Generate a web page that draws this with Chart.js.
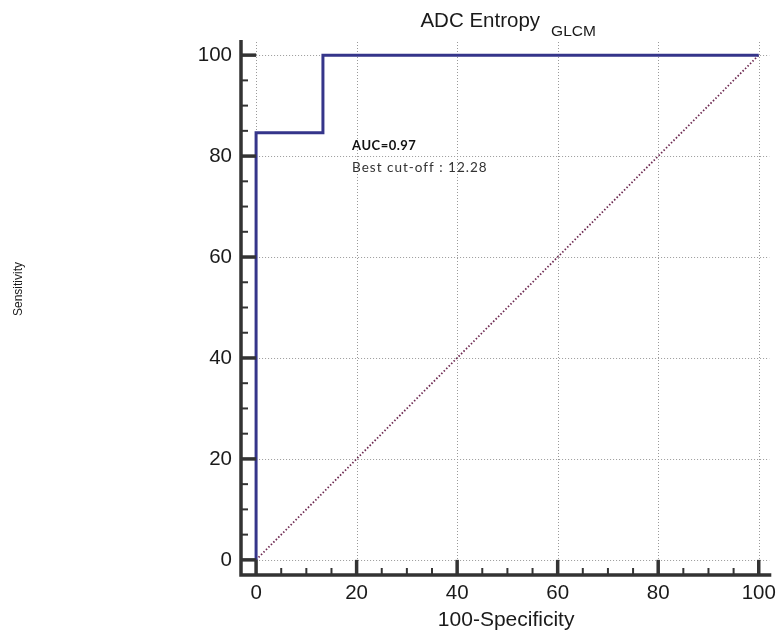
<!DOCTYPE html>
<html lang="en">
<head>
    <meta charset="utf-8" />
    <title>ADC Entropy GLCM ROC</title>
    <script src="https://cdn.jsdelivr.net/npm/chart.js"></script>
    <style>
        body { margin: 0; background: #fff; }
        #wrap { width: 782px; height: 640px; position: relative; }
    </style>
</head>
<body>
    <div id="wrap"><canvas id="rocChart"></canvas></div>

    <script>
        // ROC curve points (100-specificity, sensitivity)
        const rocX = [0, 0, 13.3, 13.3, 100];
        const rocY = [0, 84.6, 84.6, 100, 100];
        // reference diagonal
        const diagX = [0, 100];
        const diagY = [0, 100];

        const xTicks = [0, 20, 40, 60, 80, 100];
        const yTicks = [0, 20, 40, 60, 80, 100];
        const minorStep = 5;

        const titleMain = 'ADC Entropy';
        const titleSub = 'GLCM';
        const xTitle = '100-Specificity';
        const yTitle = 'Sensitivity';
        const aucText = 'AUC=0.97';
        const cutoffText = 'Best cut-off : 12.28';

        const axisColor = '#333333';
        const textColor = '#1a1a1a';
        const font = 'Arial, "Liberation Sans", sans-serif';

        const toPoints = (xs, ys) => xs.map((x, i) => ({ x, y: ys[i] }));

        // grid lines, axis lines, inward ticks, titles and annotation
        const rocDecor = {
            id: 'rocDecor',
            beforeDatasetsDraw(chart) {
                const { ctx, chartArea } = chart;
                const xs = chart.scales.x, ys = chart.scales.y;
                ctx.save();
                ctx.strokeStyle = '#9a9a9a';
                ctx.lineWidth = 1;
                ctx.setLineDash([1, 2]);
                xTicks.forEach(v => {
                    const px = Math.round(xs.getPixelForValue(v)) + 0.5;
                    ctx.beginPath();
                    ctx.moveTo(px, chartArea.top + 2);
                    ctx.lineTo(px, ys.getPixelForValue(0));
                    ctx.stroke();
                });
                yTicks.forEach(v => {
                    const py = Math.round(ys.getPixelForValue(v)) + 0.5;
                    ctx.beginPath();
                    ctx.moveTo(xs.getPixelForValue(0), py);
                    ctx.lineTo(chartArea.right - 2, py);
                    ctx.stroke();
                });
                ctx.restore();
            },
            afterDatasetsDraw(chart) {
                const { ctx, chartArea } = chart;
                const xs = chart.scales.x, ys = chart.scales.y;
                const left = chartArea.left, bottom = chartArea.bottom;
                ctx.save();
                ctx.strokeStyle = axisColor;
                ctx.lineCap = 'butt';

                // axis lines
                ctx.lineWidth = 3.5;
                ctx.beginPath();
                ctx.moveTo(left, chartArea.top);
                ctx.lineTo(left, bottom);
                ctx.lineTo(chartArea.right, bottom);
                ctx.stroke();

                // ticks point inward
                for (let v = 0; v <= 100; v += minorStep) {
                    const major = v % 20 === 0;
                    ctx.lineWidth = major ? 3.5 : 2;
                    const py = ys.getPixelForValue(v);
                    ctx.beginPath();
                    ctx.moveTo(left, py);
                    ctx.lineTo(major ? xs.getPixelForValue(0) : left + 7, py);
                    ctx.stroke();
                    const px = xs.getPixelForValue(v);
                    ctx.beginPath();
                    ctx.moveTo(px, bottom);
                    ctx.lineTo(px, major ? ys.getPixelForValue(0) : bottom - 7);
                    ctx.stroke();
                }

                // title with subscript
                ctx.fillStyle = textColor;
                ctx.textBaseline = 'alphabetic';
                ctx.textAlign = 'left';
                ctx.font = '20.5px ' + font;
                const w1 = ctx.measureText(titleMain).width;
                ctx.font = '15.5px ' + font;
                const w2 = ctx.measureText(titleSub).width;
                const gap = 11;
                const cx = (chartArea.left + chartArea.right) / 2 + 2;
                const start = cx - (w1 + gap + w2) / 2;
                ctx.font = '20.5px ' + font;
                ctx.fillText(titleMain, start, 26.5);
                ctx.font = '15.5px ' + font;
                ctx.fillText(titleSub, start + w1 + gap, 35.5);

                // y axis title
                ctx.save();
                ctx.translate(22, 289);
                ctx.rotate(-Math.PI / 2);
                ctx.textAlign = 'center';
                ctx.textBaseline = 'alphabetic';
                ctx.font = '12px ' + font;
                ctx.fillText(yTitle, 0, 0);
                ctx.restore();

                // AUC annotation
                const ax = xs.getPixelForValue(19.1);
                ctx.font = 'bold 13px Lato, "Open Sans", sans-serif';
                ctx.letterSpacing = '0.5px';
                ctx.fillStyle = '#111';
                ctx.fillText(aucText, ax, ys.getPixelForValue(81.2));
                ctx.font = '13.5px Lato, "Open Sans", sans-serif';
                ctx.letterSpacing = '1px';
                ctx.fillStyle = '#333';
                ctx.fillText(cutoffText, ax, ys.getPixelForValue(76.8));
                ctx.letterSpacing = '0px';
                ctx.restore();
            }
        };

        const ctx = document.getElementById('rocChart').getContext('2d');
        new Chart(ctx, {
            type: 'scatter',
            data: {
                datasets: [
                    {
                        label: 'ROC',
                        data: toPoints(rocX, rocY),
                        showLine: true,
                        borderColor: '#35358a',
                        borderWidth: 3,
                        pointRadius: 0,
                        tension: 0
                    },
                    {
                        label: 'Reference',
                        data: toPoints(diagX, diagY),
                        showLine: true,
                        borderColor: '#6e2a52',
                        borderWidth: 1.8,
                        borderDash: [1.5, 2],
                        pointRadius: 0
                    }
                ]
            },
            options: {
                animation: false,
                responsive: true,
                maintainAspectRatio: false,
                layout: { padding: { top: 40, right: 7, bottom: 0, left: 0 } },
                plugins: {
                    legend: { display: false },
                    tooltip: { enabled: false }
                },
                scales: {
                    x: {
                        type: 'linear',
                        min: -3,
                        max: 102.5,
                        afterBuildTicks: s => { s.ticks = xTicks.map(v => ({ value: v })); },
                        afterFit: s => { s.height = 65; },
                        grid: { display: false, drawTicks: false },
                        border: { display: false },
                        ticks: { color: textColor, padding: 6, font: { size: 20.5, family: font } },
                        title: {
                            display: true,
                            text: xTitle,
                            color: textColor,
                            padding: { top: 0, bottom: 7 },
                            font: { size: 21, family: font }
                        }
                    },
                    y: {
                        type: 'linear',
                        min: -3,
                        max: 103,
                        afterBuildTicks: s => { s.ticks = yTicks.map(v => ({ value: v })); },
                        afterFit: s => { s.width = 241; },
                        grid: { display: false, drawTicks: false },
                        border: { display: false },
                        ticks: { color: textColor, padding: 9, font: { size: 20.5, family: font } }
                    }
                }
            },
            plugins: [rocDecor]
        });
    </script>
</body>
</html>
